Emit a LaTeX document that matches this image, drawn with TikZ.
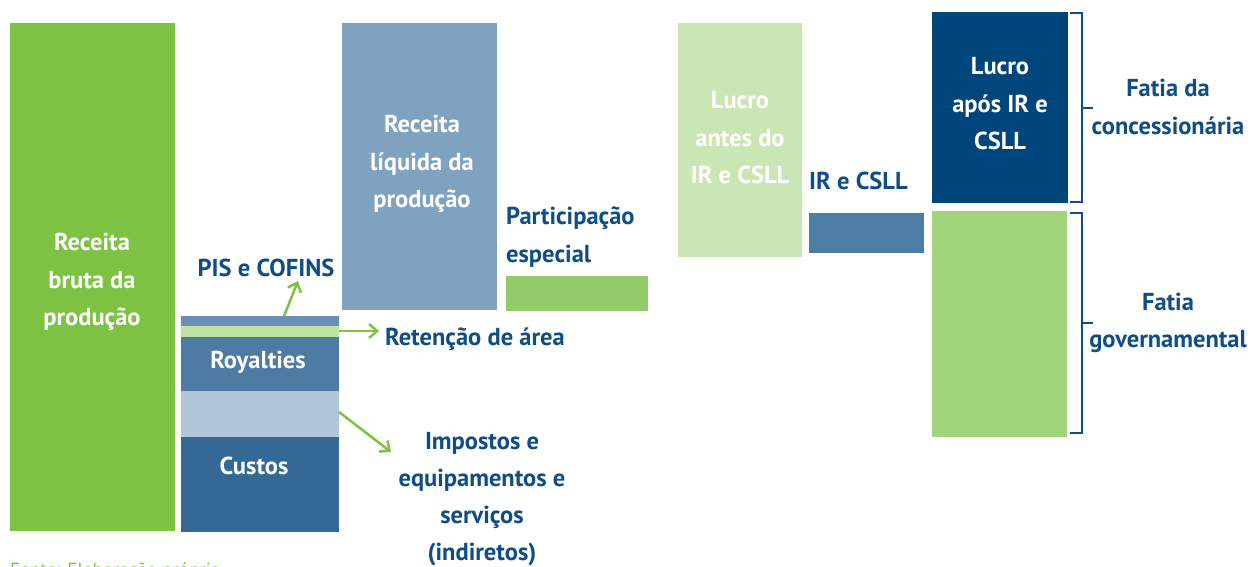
\documentclass[tikz,border=0pt]{standalone}
\usepackage{fontspec}
\setmainfont{PT Sans}
\usetikzlibrary{arrows.meta}
\definecolor{gA}{HTML}{7DC243}
\definecolor{stripB}{HTML}{6A8FB2}
\definecolor{stripG}{HTML}{BDE3A0}
\definecolor{royB}{HTML}{4E7BA3}
\definecolor{ltB}{HTML}{B2C6D9}
\definecolor{custB}{HTML}{346895}
\definecolor{liqB}{HTML}{7FA2C1}
\definecolor{partG}{HTML}{94CB6A}
\definecolor{antesG}{HTML}{CAE6B4}
\definecolor{irB}{HTML}{4D7CA5}
\definecolor{aposB}{HTML}{00467D}
\definecolor{govG}{HTML}{A2D47B}
\definecolor{txtB}{HTML}{0E4D85}
\begin{document}
\begin{tikzpicture}[x=1pt,y=-1pt,
  bar/.style={draw=none,inner sep=0pt,outer sep=0pt,anchor=north west},
  lbl/.style={inner sep=0pt,align=center,font=\fontsize{24.5}{37.5}\selectfont\bfseries},
  wlbl/.style={lbl,text=white},
  blbl/.style={lbl,text=txtB},
  arr/.style={draw=gA,line width=2.5pt,-{Straight Barb[length=8pt,width=14pt,line width=2.5pt]}},
  brk/.style={draw=txtB,line width=2pt}]
\clip (0,0) rectangle (1250,567);
\fill[white] (0,0) rectangle (1250,567);
% bars
\node[bar,fill=gA,minimum width=165pt,minimum height=508pt] (rbp) at (10,23) {};
\node[bar,fill=stripB,minimum width=158pt,minimum height=10pt] (strip) at (181,316) {};
\node[bar,fill=stripG,minimum width=158pt,minimum height=11pt] (ret) at (181,326) {};
\node[bar,fill=royB,minimum width=158pt,minimum height=54pt] (roy) at (181,337) {};
\node[bar,fill=ltB,minimum width=158pt,minimum height=46pt] (imp) at (181,391) {};
\node[bar,fill=custB,minimum width=158pt,minimum height=95pt] (cust) at (181,437) {};
\node[bar,fill=liqB,minimum width=155pt,minimum height=287pt] (rlp) at (342,23) {};
\node[bar,fill=partG,minimum width=142pt,minimum height=35pt] (part) at (506,276) {};
\node[bar,fill=antesG,minimum width=124pt,minimum height=234pt] (antes) at (678,23) {};
\node[bar,fill=irB,minimum width=115pt,minimum height=40pt] (ir) at (809,213) {};
\node[bar,fill=aposB,minimum width=136pt,minimum height=191pt] (apos) at (932,12) {};
\node[bar,fill=govG,minimum width=135pt,minimum height=226pt] (gov) at (932,211) {};
% labels
\node[wlbl] (trbp) at (92,282) {Receita\\bruta da\\produção};
\node[wlbl] (troy) at (258,362) {Royalties};
\node[wlbl] (tcust) at (254,466) {Custos};
\node[wlbl] (trlp) at (422,164) {Receita\\líquida da\\produção};
\node[wlbl] (tantes) at (740,138) {Lucro\\antes do\\IR e CSLL};
\node[wlbl] (tapos) at (1000,104) {Lucro\\após IR e\\CSLL};
\node[blbl] (pis) at (266,268) {PIS e COFINS};
\node[blbl,anchor=west] (tret) at (385,339) {Retenção de área};
\node[blbl,font=\fontsize{24.5}{37}\selectfont\bfseries] (timp) at (482,499) {Impostos e\\equipamentos e\\serviços\\(indiretos)};
\node[blbl,align=left,anchor=west] (tpart) at (506,237) {Participação\\especial};
\node[blbl,anchor=west] (tir) at (809,181) {IR e CSLL};
\node[blbl] (tconc) at (1168,107) {Fatia da\\concessionária};
\node[blbl] (tgov) at (1168,323) {Fatia\\governamental};
\node[inner sep=0pt,anchor=base west,text=gA,font=\fontsize{19}{22}\selectfont] (fonte) at (10,576) {Fonte: Elaboração própria};
% arrows
\coordinate (pisA) at (284,316);
\coordinate (pisB) at (298,281);
\coordinate (retA) at (339,331);
\coordinate (retB) at (379,331);
\coordinate (impA) at (339,412);
\coordinate (impB) at (391,452);
\draw[arr] (pisA) -- (pisB);
\draw[arr] (retA) -- (retB);
\draw[arr] (impA) -- (impB);
% brackets
\coordinate (b1t) at (1070,13);
\coordinate (b1b) at (1070,202);
\coordinate (b1m) at (1093,108);
\coordinate (b2t) at (1070,213);
\coordinate (b2b) at (1070,433);
\coordinate (b2m) at (1093,323);
\draw[brk] (b1t) -- ++(12,0) |- (b1b);
\draw[brk] (b1m) -- (b1m -| 1082,0);
\draw[brk] (b2t) -- ++(12,0) |- (b2b);
\draw[brk] (b2m) -- (b2m -| 1082,0);
\end{tikzpicture}
\end{document}
